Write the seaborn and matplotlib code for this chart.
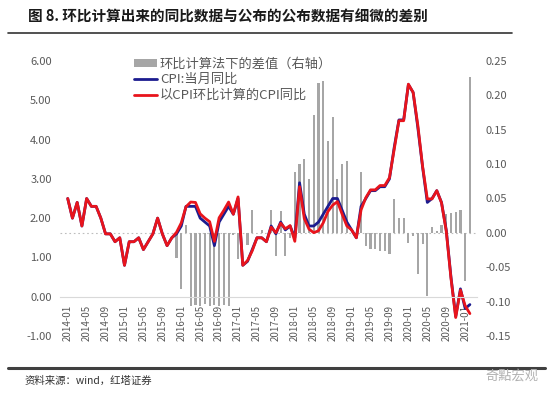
import numpy as np
import pandas as pd
import matplotlib
matplotlib.use("Agg")
import matplotlib.pyplot as plt
import seaborn as sns
from matplotlib.patches import Patch
from matplotlib.lines import Line2D

sns.set_style("white")
plt.rcParams['font.family'] = ['Noto Sans CJK SC', 'DejaVu Sans']
plt.rcParams['axes.unicode_minus'] = False

# ---------------- data ----------------
months = [f"{y}-{m:02d}" for y in range(2014, 2022) for m in range(1, 13)][:86]

cpi_yoy = [2.5, 2.0, 2.4, 1.8, 2.5, 2.3, 2.3, 2.0, 1.6, 1.6, 1.4, 1.5,
           0.8, 1.4, 1.4, 1.5, 1.2, 1.4, 1.6, 2.0, 1.6, 1.3, 1.5, 1.6,
           1.8, 2.3, 2.3, 2.3, 2.0, 1.9, 1.8, 1.3, 1.9, 2.1, 2.3, 2.1,
           2.5, 0.8, 0.9, 1.2, 1.5, 1.5, 1.4, 1.8, 1.6, 1.9, 1.7, 1.8,
           1.5, 2.9, 2.1, 1.8, 1.8, 1.9, 2.1, 2.3, 2.5, 2.5, 2.2, 1.9,
           1.7, 1.5, 2.3, 2.5, 2.7, 2.7, 2.8, 2.8, 3.0, 3.8, 4.5, 4.5,
           5.4, 5.2, 4.3, 3.3, 2.4, 2.5, 2.7, 2.4, 1.7, 0.5, -0.5, 0.2,
           -0.3, -0.2]

cpi_calc = [2.5, 2.0, 2.4, 1.8, 2.5, 2.3, 2.3, 2.0, 1.6, 1.6, 1.4, 1.5,
            0.8, 1.4, 1.4, 1.5, 1.2, 1.4, 1.6, 2.0, 1.6, 1.3, 1.5, 1.64,
            1.88, 2.29, 2.41, 2.40, 2.11, 2.00, 1.91, 1.41, 2.01, 2.20, 2.41, 2.10,
            2.54, 0.80, 0.92, 1.17, 1.50, 1.50, 1.40, 1.77, 1.63, 1.87, 1.73, 1.81,
            1.41, 2.80, 1.99, 1.72, 1.63, 1.68, 1.88, 2.17, 2.33, 2.42, 2.10, 1.80,
            1.70, 1.50, 2.21, 2.52, 2.72, 2.72, 2.83, 2.83, 3.03, 3.75, 4.48, 4.48,
            5.41, 5.20, 4.36, 3.32, 2.49, 2.49, 2.70, 2.39, 1.67, 0.47, -0.53, 0.17,
            -0.23, -0.43]

diff = [0, 0, 0, 0, 0, 0, 0, 0, 0, 0, 0, 0,
        0, 0, 0, 0, 0, 0, 0, 0, 0, 0, 0, -0.037,
        -0.081, 0.011, -0.106, -0.105, -0.106, -0.104, -0.106, -0.105, -0.106, -0.105, -0.106, -0.003,
        -0.038, 0, -0.018, 0.034, 0, 0.004, 0, 0.033, -0.033, 0.032, -0.034, -0.008,
        0.089, 0.100, 0.108, 0.079, 0.172, 0.218, 0.221, 0.134, 0.169, 0.079, 0.100, 0.105,
        0, 0, 0.089, -0.019, -0.023, -0.023, -0.026, -0.027, -0.030, 0.050, 0.022, 0.022,
        -0.014, -0.004, -0.060, -0.016, -0.092, 0.008, 0.003, 0.011, 0.028, 0.029, 0.031, 0.034,
        -0.070, 0.227]

left_ticks = [-1, 0, 1, 2, 3, 4, 5, 6]
right_ticks = [-0.15, -0.10, -0.05, 0.0, 0.05, 0.10, 0.15, 0.20, 0.25]

title = "图 8. 环比计算出来的同比数据与公布的公布数据有细微的差别"
lab_bar = "环比计算法下的差值（右轴）"
lab_blue = "CPI:当月同比"
lab_red = "以CPI环比计算的CPI同比"
source = "资料来源：wind，红塔证券"

df = pd.DataFrame({"idx": np.arange(len(months)), "month": months,
                   "blue": cpi_yoy, "red": cpi_calc, "diff": diff})

# ---------------- figure ----------------
W, H = 551, 396
fig = plt.figure(figsize=(W / 100, H / 100), dpi=100)
ax = fig.add_axes([60 / W, 1 - 336 / H, 417 / W, 275 / H])
ax2 = ax.twinx()

gray = "#a6a6a6"
blue = "#1c1c8f"
red = "#e8141c"
tick_col = "#595959"

# bars (right axis)
sns.barplot(data=df, x="idx", y="diff", ax=ax2, native_scale=True,
            color=gray, saturation=1, width=0.45, errorbar=None, linewidth=0)
ax2.axhline(0, color="#bdbdbd", lw=0.8, ls=(0, (1.5, 2.5)), zorder=0)

# lines (left axis)
sns.lineplot(data=df, x="idx", y="blue", ax=ax, color=blue, lw=2.0)
sns.lineplot(data=df, x="idx", y="red", ax=ax, color=red, lw=2.0)

ax.set_zorder(ax2.get_zorder() + 1)
ax.patch.set_visible(False)

ax.set_xlim(-1.63, 86.5)
ax.set_ylim(-1, 6)
ax2.set_ylim(-0.15, 0.25)

ax.set_yticks(left_ticks)
ax.set_yticklabels([f"{v:.2f}" for v in left_ticks])
ax2.set_yticks(right_ticks)
ax2.set_yticklabels([f"{v:.2f}" for v in right_ticks])

xt = list(range(0, len(months), 4))
ax.set_xticks(xt)
ax.set_xticklabels([months[i] for i in xt])
ax2.tick_params(axis="x", bottom=False, labelbottom=False, top=False, labeltop=False)

for a in (ax, ax2):
    for s in a.spines.values():
        s.set_visible(False)
    a.set_xlabel("")
    a.set_ylabel("")
ax.spines["bottom"].set_visible(True)
ax.spines["bottom"].set_position(("data", 0))
ax.spines["bottom"].set_color("#d9d9d9")
ax.tick_params(axis="x", length=4, color="#d9d9d9", labelsize=7, labelcolor=tick_col,
               pad=2, labelrotation=90)
ax.tick_params(axis="y", length=0, labelsize=8, labelcolor=tick_col, pad=6)
ax2.tick_params(axis="y", length=0, labelsize=8, labelcolor=tick_col, pad=6)

handles = [Patch(facecolor=gray, edgecolor="none"),
           Line2D([], [], color=blue, lw=2),
           Line2D([], [], color=red, lw=2)]
ax.legend(handles, [lab_bar, lab_blue, lab_red], loc="upper left",
          bbox_to_anchor=(127 / W, 1 - 51 / H), bbox_transform=fig.transFigure,
          frameon=False, fontsize=9.5, labelcolor=tick_col, handlelength=1.8,
          handleheight=0.5, handletextpad=0.2, labelspacing=0.2, borderpad=0)

# title / footer
fig.text(28 / W, 1 - 17 / H, title, fontsize=10.5, fontweight="bold",
         color="#1a1a1a", va="center", ha="left")
fig.add_artist(Line2D([8 / W, 512 / W], [1 - 33 / H] * 2, color="#333333", lw=1.2))
fig.add_artist(Line2D([8 / W, 545 / W], [1 - 368 / H] * 2, color="#404040", lw=2.2))
fig.text(25 / W, 1 - 381 / H, source, fontsize=7.5, color="#333333", va="center", ha="left")
fig.text(485 / W, 1 - 376 / H, "奇點宏观", fontsize=9.5, color="#b0b0b0", va="center", ha="left")

fig.savefig("out.png", dpi=100)
